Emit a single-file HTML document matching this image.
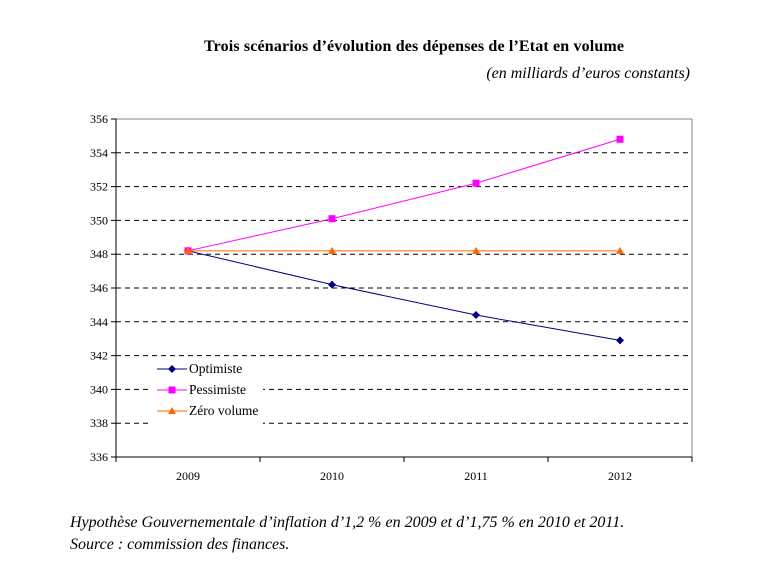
<!DOCTYPE html>
<html><head><meta charset="utf-8"><style>
body{margin:0;background:#fff;width:768px;height:576px;overflow:hidden;font-family:"Liberation Serif",serif}
</style></head><body>
<svg id="c" width="768" height="576" xmlns="http://www.w3.org/2000/svg" style="font-family:'Liberation Serif',serif">
<text x="414" y="51" font-size="16" font-weight="bold" text-anchor="middle" textLength="420">Trois scénarios d’évolution des dépenses de l’Etat en volume</text>
<text x="690" y="78" font-size="16" font-style="italic" text-anchor="end">(en milliards d’euros constants)</text>
<text x="70" y="527" font-size="16" font-style="italic">Hypothèse Gouvernementale d’inflation d’1,2 % en 2009 et d’1,75 % en 2010 et 2011.</text>
<text x="70" y="549" font-size="16" font-style="italic">Source : commission des finances.</text>
<g id="g"></g>
</svg>
<script>
const categories=["2009","2010","2011","2012"];
const optimiste=[348.2,346.2,344.4,342.9];
const pessimiste=[348.2,350.1,352.2,354.8];
const zeroVolume=[348.2,348.2,348.2,348.2];
const yTicks=[336,338,340,342,344,346,348,350,352,354,356];
const L=116,R=692,T=119,B=457,yMin=336,yMax=356;
const NS="http://www.w3.org/2000/svg";
const g=document.getElementById('g');
const xs=i=>L+(R-L)/categories.length*(i+0.5);
const ys=v=>B-(v-yMin)/(yMax-yMin)*(B-T);
function mk(t,a){const e=document.createElementNS(NS,t);for(const k in a)e.setAttribute(k,a[k]);g.appendChild(e);return e;}
let e;
yTicks.forEach(v=>{const y=ys(v);
 if(v!==yMin&&v!==yMax){e=mk('line',{x1:L,x2:R,y1:y,y2:y,stroke:'#000','stroke-dasharray':'5,4'});
 
 }
 e=mk('line',{x1:L-5,x2:L,y1:y,y2:y,stroke:'#000'});
 
 
 e=mk('text',{x:L-8,y:y+4,'font-size':12,'text-anchor':'end'});e.textContent=v;
 
 
});
e=mk('line',{x1:L,x2:R,y1:T,y2:T,stroke:'#808080'});


e=mk('line',{x1:R,x2:R,y1:T,y2:B,stroke:'#808080'});


e=mk('line',{x1:L,x2:L,y1:T,y2:B,stroke:'#000'});


e=mk('line',{x1:L,x2:R,y1:B,y2:B,stroke:'#000'});


for(let i=0;i<=categories.length;i++){const x=L+(R-L)/categories.length*i;
 e=mk('line',{x1:x,x2:x,y1:B,y2:B+5,stroke:'#000'});
 
 }
categories.forEach((c,i)=>{e=mk('text',{x:xs(i),y:B+23,'font-size':12,'text-anchor':'middle'});e.textContent=c;
 
 });
function marker(type,x,y,col){
 if(type==='d')return mk('polygon',{points:`${x},${y-4} ${x+4},${y} ${x},${y+4} ${x-4},${y}`,fill:col});
 if(type==='s')return mk('rect',{x:x-3.5,y:y-3.5,width:7,height:7,fill:col});
 return mk('polygon',{points:`${x},${y-4} ${x+4},${y+3} ${x-4},${y+3}`,fill:col});
}
const series=[["optimiste",optimiste,"#000080","d"],["pessimiste",pessimiste,"#ff00ff","s"],["zero-volume",zeroVolume,"#ff6600","t"]];
series.forEach(([n,d,col,m])=>{
 e=mk('polyline',{points:d.map((v,i)=>xs(i)+','+ys(v)).join(' '),fill:'none',stroke:col,'stroke-width':1});
 
 
 d.forEach((v,i)=>{e=marker(m,xs(i),ys(v),col);
  
  });
});
e=mk('rect',{x:150,y:358,width:113,height:72,fill:'#fff'});


const labels=["Optimiste","Pessimiste","Zéro volume"];
series.forEach(([n,d,col,m],k)=>{const y=369+k*21;
 e=mk('line',{x1:157,x2:187,y1:y,y2:y,stroke:col});
 
 
 e=marker(m,172,y,col);
 
 
 e=mk('text',{x:189,y:y+4,'font-size':13.5});e.textContent=labels[k];
 
 
});
</script>
</body></html>
